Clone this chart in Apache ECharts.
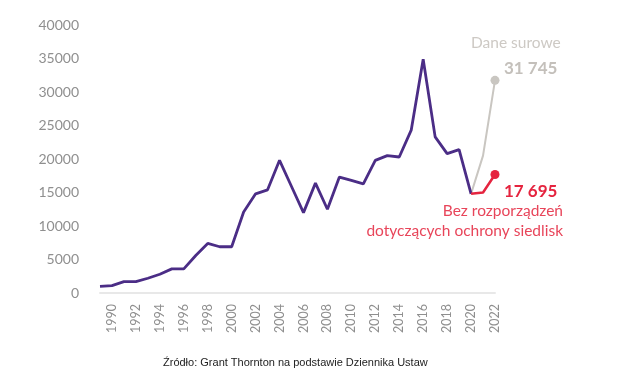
<!DOCTYPE html>
<html><head><meta charset="utf-8">
<script src="https://cdn.jsdelivr.net/npm/echarts@6/dist/echarts.min.js"></script>
<style>html,body{margin:0;padding:0;background:#fff}#c{width:619px;height:391px}</style>
</head><body><div id="c"></div>
<script>
const years = [];
for (let y = 1989; y <= 2022; y++) years.push(String(y));
const mainValues = [1000,1100,1700,1700,2200,2800,3600,3600,5600,7400,6900,6900,12100,14800,15400,19800,15900,12000,16400,12500,17300,16800,16300,19800,20500,20300,24300,34900,23300,20800,21400,14800,null,null];
const rawValues = [null,null,null,null,null,null,null,null,null,null,null,null,null,null,null,null,null,null,null,null,null,null,null,null,null,null,null,null,null,null,null,14800,20500,31745];
const adjValues = [null,null,null,null,null,null,null,null,null,null,null,null,null,null,null,null,null,null,null,null,null,null,null,null,null,null,null,null,null,null,null,14800,15000,17695];
const yTicks = [0,5000,10000,15000,20000,25000,30000,35000,40000];
const rawLabel = ['Dane surowe','31 745'];
const adjLabel = ['17 695','Bez rozporządzeń','dotyczących ochrony siedlisk'];
const source = 'Źródło: Grant Thornton na podstawie Dziennika Ustaw';

const chart = echarts.init(document.getElementById('c'));
const last = years.length - 1;
const endSym = (size) => (v, p) => p.dataIndex === last ? size : 0;
chart.setOption({
  animation: false,
  grid: {left: 100, right: 124, top: 25, bottom: 98},
  xAxis: {
    type: 'category', data: years, boundaryGap: false,
    axisLine: {lineStyle: {color: '#e8e8e8', width: 2}},
    axisTick: {show: false},
    axisLabel: {rotate: 90, margin: 11, color: '#8f8f8f', fontFamily: 'Lato', fontSize: 12.5,
      interval: (i, v) => (+v) % 2 === 0}
  },
  yAxis: {
    type: 'value', min: yTicks[0], max: yTicks[yTicks.length-1], interval: 5000,
    splitLine: {show: false}, axisLine: {show: false}, axisTick: {show: false},
    axisLabel: {color: '#8f8f8f', fontFamily: 'Lato', fontSize: 14, margin: 21, formatter: v => String(v)}
  },
  series: [
    {type: 'line', data: mainValues, symbol: 'none', lineStyle: {color: '#4b2d86', width: 2.8}, z: 3},
    {type: 'line', data: rawValues, symbol: 'circle', showSymbol: true, symbolSize: endSym(9),
      itemStyle: {color: '#c9c6c1'}, lineStyle: {color: '#c9c6c1', width: 2}, z: 2},
    {type: 'line', data: adjValues, symbol: 'circle', showSymbol: true, symbolSize: endSym(9),
      itemStyle: {color: '#e5243f'}, lineStyle: {color: '#e5243f', width: 2.5}, z: 4}
  ]
});
const pr = chart.convertToPixel({gridIndex: 0}, [last, rawValues[last]]);
const pa = chart.convertToPixel({gridIndex: 0}, [last, adjValues[last]]);
const font = "'Lato', sans-serif";
chart.setOption({
  graphic: [
    {type: 'text', left: pr[0] - 24, top: pr[1] - 45, style: {text: rawLabel[0], fill: '#cdc9c4', font: '15.5px ' + font}},
    {type: 'text', left: pr[0] + 9, top: pr[1] - 20, style: {text: rawLabel[1], fill: '#c4c0bb', font: 'bold 17px ' + font}},
    {type: 'text', left: pa[0] + 9, top: pa[1] + 9, style: {text: adjLabel[0], fill: '#e5243f', font: 'bold 17px ' + font}},
    {type: 'text', right: 619 - (pa[0] + 68), top: pa[1] + 29, style: {text: adjLabel[1], fill: '#e8455a', font: '15.5px ' + font, align: 'right'}},
    {type: 'text', right: 619 - (pa[0] + 68), top: pa[1] + 49, style: {text: adjLabel[2], fill: '#e8455a', font: '15.5px ' + font, align: 'right'}},
    {type: 'text', left: 163, top: 357, style: {text: source, fill: '#222', font: "11px 'Liberation Sans', Arial, sans-serif"}}
  ]
});
</script></body></html>
